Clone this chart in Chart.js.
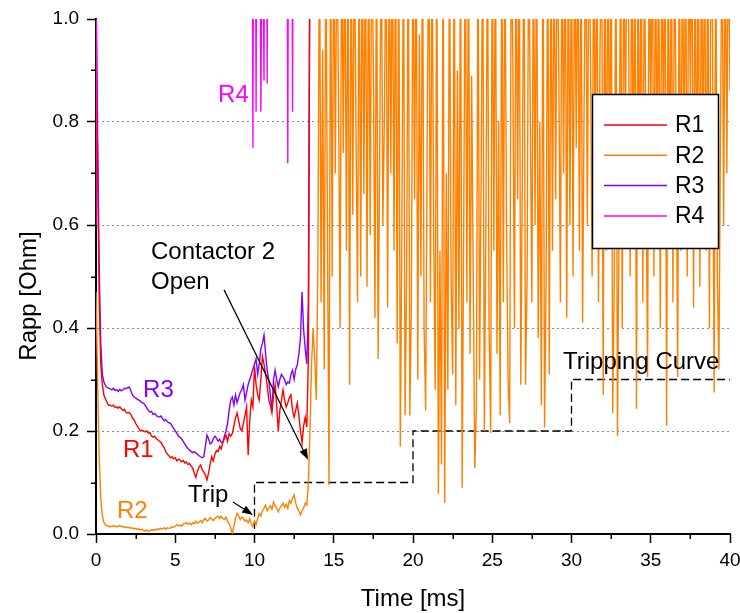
<!DOCTYPE html>
<html>
<head>
<meta charset="utf-8">
<script src="https://cdn.jsdelivr.net/npm/chart.js@4/dist/chart.umd.min.js"></script>
<style>
html,body{margin:0;padding:0;background:#fff;}
#wrap{width:740px;height:613px;position:relative;}
</style>
</head>
<body>
<div id="wrap"><canvas id="c" width="740" height="613"></canvas></div>
<script>
// ---------------- DATA ----------------
const seriesNames = ['R1', 'R2', 'R3', 'R4'];
const xTickLabels = ['0', '5', '10', '15', '20', '25', '30', '35', '40'];
const yTickLabels = ['0.0', '0.2', '0.4', '0.6', '0.8', '1.0'];

// sampling instants (ms), 0.1 ms apart
const time = Array.from({length: 401}, (_, i) => Math.round(i) / 10);

// R1, t = 0 .. 13.5 ms
const r1Values = [
  1.05,0.72,0.46,0.33,0.29,0.27,0.262,0.255,0.25,0.25,
  0.248,0.25,0.246,0.247,0.244,0.247,0.243,0.24,0.242,0.236,
  0.235,0.236,0.232,0.225,0.222,0.215,0.21,0.205,0.2,0.202,
  0.2,0.198,0.2,0.196,0.197,0.19,0.188,0.19,0.185,0.183,
  0.18,0.178,0.172,0.168,0.16,0.155,0.152,0.148,0.15,0.146,
  0.148,0.142,0.145,0.144,0.14,0.143,0.138,0.14,0.135,0.137,
  0.132,0.128,0.118,0.11,0.122,0.13,0.134,0.125,0.12,0.115,
  0.105,0.118,0.135,0.15,0.142,0.155,0.162,0.16,0.17,0.165,
  0.178,0.185,0.192,0.18,0.195,0.19,0.195,0.21,0.225,0.235,
  0.22,0.205,0.2,0.215,0.23,0.247,0.153,0.22,0.26,0.247,
  0.325,0.29,0.27,0.26,0.3,0.345,0.33,0.31,0.29,0.26,
  0.25,0.235,0.27,0.29,0.25,0.2,0.24,0.26,0.28,0.26,
  0.247,0.255,0.265,0.27,0.24,0.227,0.24,0.254,0.23,0.2,
  0.177,0.21,0.227,0.208,0.34,1.2
];

// R2, t = 0 .. 40 ms
const r2Values = [
  0.47,0.3,0.15,0.07,0.035,0.022,0.018,0.016,0.015,0.014,
  0.015,0.016,0.015,0.014,0.015,0.016,0.015,0.014,0.013,0.014,
  0.012,0.013,0.011,0.012,0.01,0.011,0.009,0.01,0.008,0.009,
  0.007,0.006,0.008,0.005,0.006,0.008,0.007,0.009,0.008,0.01,
  0.009,0.011,0.01,0.012,0.009,0.012,0.011,0.012,0.014,0.013,
  0.015,0.018,0.016,0.017,0.015,0.019,0.02,0.022,0.019,0.021,
  0.018,0.022,0.02,0.025,0.021,0.023,0.026,0.022,0.028,0.03,
  0.025,0.027,0.032,0.029,0.026,0.03,0.033,0.035,0.03,0.034,
  0.03,0.028,0.033,0.025,0.02,0.012,0.0,0.015,0.03,0.04,
  0.035,0.028,0.033,0.03,0.025,0.027,0.022,0.03,0.02,0.014,
  0.025,0.018,0.03,0.04,0.035,0.045,0.05,0.056,0.045,0.05,
  0.055,0.048,0.062,0.055,0.05,0.043,0.05,0.055,0.06,0.052,
  0.058,0.05,0.065,0.06,0.07,0.076,0.06,0.05,0.045,0.037,
  0.045,0.05,0.06,0.056,0.1,0.2,0.33,0.4,0.34,0.26,
  0.53,1.2,0.45,0.94,0.32,1.2,0.6,0.095,1.2,0.5,
  1.2,0.7,1.2,0.85,0.4,1.2,0.74,1.2,0.55,1.2,
  0.29,1.2,0.62,1.2,0.8,0.45,1.2,0.5,1.2,0.66,
  1.2,0.48,1.2,0.58,1.2,0.9,0.42,1.2,0.34,0.75,
  1.2,0.6,0.82,1.2,0.44,1.2,0.7,1.2,0.55,1.2,
  0.37,1.2,0.17,0.6,1.2,0.23,0.5,1.2,0.23,0.45,
  1.2,0.65,1.2,0.3,0.97,0.5,1.2,0.4,0.24,0.8,
  1.2,0.45,1.2,0.6,0.28,1.2,0.078,0.55,0.135,1.2,
  0.06,0.7,0.28,1.2,0.5,0.31,1.2,0.25,0.9,0.4,
  1.2,0.09,0.6,1.2,0.45,1.2,0.35,0.89,0.5,0.128,
  0.25,1.2,0.3,0.7,1.2,0.2,0.6,1.2,0.4,0.196,
  1.2,0.55,1.2,0.35,0.8,0.23,1.2,0.45,1.2,0.6,
  0.3,0.215,1.2,0.915,0.4,1.2,0.65,1.2,0.29,0.7,
  1.2,0.29,0.5,1.2,0.81,0.45,1.2,0.6,1.2,0.38,
  0.8,0.25,1.2,0.207,0.5,1.2,0.31,1.2,0.55,1.2,
  0.65,1.2,0.895,0.45,1.2,0.7,1.2,0.42,1.2,0.6,
  1.2,0.5,1.2,0.75,1.2,0.55,1.2,0.41,0.85,1.2,
  0.6,1.2,0.925,0.5,1.2,0.7,1.2,0.45,0.95,1.2,
  0.27,1.2,0.55,1.2,0.65,1.2,0.235,0.5,1.2,0.19,
  0.6,1.2,0.4,1.2,0.75,1.2,0.99,0.5,1.2,0.65,
  1.2,0.243,1.2,0.6,1.2,0.45,1.2,0.7,0.305,1.2,
  0.8,1.2,0.5,1.2,0.65,1.2,0.4,1.2,0.75,1.2,
  0.21,1.2,0.6,1.2,0.45,1.2,0.8,0.305,1.2,0.55,
  1.2,0.7,1.2,0.5,1.2,0.85,1.2,0.44,1.2,0.6,
  1.2,0.48,1.2,0.7,1.2,0.55,1.2,0.4,1.2,0.97,
  0.275,1.2,0.5,0.32,0.785,1.2,0.6,1.2,0.7,1.2,
  0.86
];

// R3, t = 0 .. 13.5 ms
const r3Values = [
  1.05,0.78,0.52,0.37,0.31,0.295,0.288,0.285,0.283,0.282,
  0.28,0.283,0.279,0.28,0.277,0.281,0.278,0.28,0.283,0.282,
  0.284,0.285,0.278,0.27,0.266,0.264,0.262,0.26,0.258,0.255,
  0.254,0.25,0.245,0.24,0.237,0.238,0.232,0.234,0.23,0.228,
  0.227,0.229,0.224,0.22,0.222,0.218,0.216,0.215,0.21,0.205,
  0.2,0.196,0.19,0.188,0.185,0.18,0.175,0.17,0.166,0.163,
  0.16,0.158,0.16,0.157,0.155,0.152,0.15,0.148,0.15,0.17,
  0.192,0.185,0.175,0.177,0.185,0.19,0.186,0.18,0.184,0.178,
  0.178,0.19,0.2,0.215,0.24,0.26,0.266,0.25,0.27,0.255,
  0.265,0.275,0.28,0.29,0.26,0.275,0.29,0.3,0.31,0.32,
  0.33,0.34,0.31,0.33,0.36,0.37,0.386,0.35,0.318,0.3,
  0.27,0.24,0.3,0.318,0.3,0.286,0.3,0.31,0.305,0.3,
  0.29,0.295,0.293,0.31,0.318,0.3,0.32,0.328,0.35,0.38,
  0.47,0.396,0.36,0.33,0.45,1.2
];

// R4 is above the plotted range except for short dips
const r4Time   = [0, 0.1, 9.8, 9.9, 10.0, 10.1, 10.2, 10.3, 10.4, 10.5, 10.6, 10.7, 10.8, 10.9, 12.0, 12.1, 12.2, 12.3, 12.4, 12.5, 13.5];
const r4Values = [0.6, 2, 2, 0.75, 2, 0.82, 2, 2, 0.82, 1.3, 0.88, 2, 0.875, 2, 2, 0.72, 2, 2, 0.82, 2, 2];

// Tripping curve (step)
const tripTime   = [10, 10, 20, 20, 30, 30, 40];
const tripValues = [0.01, 0.1, 0.1, 0.2, 0.2, 0.3, 0.3];

// ---------------- CHART ----------------
const FONT = '"Liberation Sans", Arial, Helvetica, sans-serif';
const COLORS = {R1: '#ff0000', R2: '#ff8000', R3: '#8000ff', R4: '#ff00ff'};
const pts = (ts, vs) => vs.map((v, i) => ({x: ts[i], y: v}));

const notes = [
  {text: 'R4', x: 7.70, y: 0.839, color: COLORS.R4},
  {text: 'R3', x: 2.97, y: 0.266, color: COLORS.R3},
  {text: 'R1', x: 1.70, y: 0.150, color: COLORS.R1},
  {text: 'R2', x: 1.32, y: 0.031, color: COLORS.R2},
  {text: 'Contactor 2', x: 3.47, y: 0.534, color: '#000'},
  {text: 'Open', x: 3.47, y: 0.476, color: '#000'},
  {text: 'Trip', x: 5.80, y: 0.062, color: '#000'},
  {text: 'Tripping Curve', x: 29.46, y: 0.320, color: '#000'}
];
const arrows = [
  {x1: 8.08, y1: 0.474, x2: 13.38, y2: 0.144},
  {x1: 8.64, y1: 0.062, x2: 9.91, y2: 0.037}
];

const decoPlugin = {
  id: 'deco',
  afterDraw(chart) {
    const {ctx, chartArea: ca, scales: {x, y}} = chart;
    ctx.save();
    // minor ticks
    ctx.strokeStyle = '#000';
    ctx.lineWidth = 1.5;
    ctx.beginPath();
    for (let k = 0; k < 8; k++) {
      const px = Math.round(x.getPixelForValue(2.5 + 5 * k)) + 0.25;
      ctx.moveTo(px, ca.bottom); ctx.lineTo(px, ca.bottom + 5);
    }
    for (let k = 0; k < 5; k++) {
      const py = Math.round(y.getPixelForValue(0.1 + 0.2 * k)) + 0.25;
      ctx.moveTo(ca.left, py); ctx.lineTo(ca.left - 5, py);
    }
    ctx.stroke();

    // text notes
    ctx.font = '24px ' + FONT;
    ctx.textBaseline = 'alphabetic';
    ctx.textAlign = 'left';
    notes.forEach(n => {
      ctx.fillStyle = n.color;
      ctx.fillText(n.text, x.getPixelForValue(n.x), y.getPixelForValue(n.y));
    });

    // arrows
    ctx.strokeStyle = '#000';
    ctx.fillStyle = '#000';
    ctx.lineWidth = 1.2;
    arrows.forEach(a => {
      const x1 = x.getPixelForValue(a.x1), y1 = y.getPixelForValue(a.y1);
      const x2 = x.getPixelForValue(a.x2), y2 = y.getPixelForValue(a.y2);
      const ang = Math.atan2(y2 - y1, x2 - x1);
      const L = 11, W = 4;
      const bx = x2 - L * Math.cos(ang), by = y2 - L * Math.sin(ang);
      ctx.beginPath(); ctx.moveTo(x1, y1); ctx.lineTo(bx, by); ctx.stroke();
      ctx.beginPath();
      ctx.moveTo(x2, y2);
      ctx.lineTo(bx + W * Math.sin(ang), by - W * Math.cos(ang));
      ctx.lineTo(bx - W * Math.sin(ang), by + W * Math.cos(ang));
      ctx.closePath(); ctx.fill();
    });

    // axis titles
    ctx.fillStyle = '#000';
    ctx.font = '24px ' + FONT;
    ctx.textAlign = 'center';
    ctx.textBaseline = 'alphabetic';
    ctx.fillText('Time [ms]', (ca.left + ca.right) / 2, 606);
    ctx.save();
    ctx.translate(36, 296);
    ctx.rotate(-Math.PI / 2);
    ctx.fillText('Rapp [Ohm]', 0, 0);
    ctx.restore();

    // legend box
    const lx = 592, ly = 94, lw = 126, lh = 154;
    ctx.fillStyle = '#fff';
    ctx.fillRect(lx, ly, lw, lh);
    ctx.strokeStyle = '#000';
    ctx.lineWidth = 1.5;
    ctx.strokeRect(lx + 0.5, ly + 0.5, lw, lh);
    ctx.font = '23px ' + FONT;
    ctx.textAlign = 'left';
    ctx.textBaseline = 'middle';
    chart.data.datasets.slice(0, 4).forEach((ds, i) => {
      const cy = ly + 31 + i * 30.3;
      ctx.strokeStyle = ds.borderColor;
      ctx.lineWidth = 1.5;
      ctx.beginPath(); ctx.moveTo(lx + 12, cy); ctx.lineTo(lx + 75, cy); ctx.stroke();
      ctx.fillStyle = '#000';
      ctx.fillText(ds.label, lx + 83, cy + 1);
    });
    ctx.restore();
  }
};

const lineDs = (label, data, color, order) => ({
  label, data, borderColor: color, backgroundColor: color,
  borderWidth: 1.4, pointRadius: 0, tension: 0, fill: false, order
});

new Chart(document.getElementById('c'), {
  type: 'line',
  data: {
    datasets: [
      lineDs(seriesNames[0], pts(time, r1Values), COLORS.R1, 1),
      lineDs(seriesNames[1], pts(time, r2Values), COLORS.R2, 2),
      lineDs(seriesNames[2], pts(time, r3Values), COLORS.R3, 3),
      lineDs(seriesNames[3], pts(r4Time, r4Values), COLORS.R4, 0),
      Object.assign(lineDs('Tripping Curve', pts(tripTime, tripValues), '#000', 9),
        {borderDash: [8, 4], borderWidth: 1.3})
    ]
  },
  options: {
    responsive: false,
    animation: false,
    devicePixelRatio: 1,
    events: [],
    layout: {padding: {top: 19, right: 10, left: 0, bottom: 0}},
    plugins: {legend: {display: false}, tooltip: {enabled: false}},
    scales: {
      x: {
        type: 'linear', min: 0, max: 40,
        afterFit(s) { s.height = 79; s.paddingLeft = 0; s.paddingRight = 0; },
        ticks: {
          stepSize: 5, color: '#000', padding: 6, maxRotation: 0,
          font: {family: FONT, size: 19},
          callback: (v) => xTickLabels[Math.round(v / 5)] ?? ''
        },
        grid: {drawOnChartArea: false, drawTicks: true, tickLength: 9, tickColor: '#000', tickWidth: 1.5},
        border: {display: true, color: '#000', width: 2},
        title: {display: false}
      },
      y: {
        type: 'linear', min: 0, max: 1,
        afterFit(s) { s.width = 96; s.paddingTop = 0; s.paddingBottom = 0; },
        ticks: {
          stepSize: 0.2, color: '#000', padding: 8,
          font: {family: FONT, size: 19},
          callback: (v) => yTickLabels[Math.round(v / 0.2)] ?? ''
        },
        grid: {
          drawOnChartArea: true, drawTicks: true, tickLength: 9, tickColor: '#000', tickWidth: 1.5,
          lineWidth: 1,
          color: (c) => (c.tick && (c.tick.value < 0.01 || c.tick.value > 0.99)) ? 'rgba(0,0,0,0)' : '#8a8a8a'
        },
        border: {display: true, color: '#000', width: 2, dash: [2, 3]},
        title: {display: false}
      }
    }
  },
  plugins: [decoPlugin]
});
</script>
</body>
</html>
